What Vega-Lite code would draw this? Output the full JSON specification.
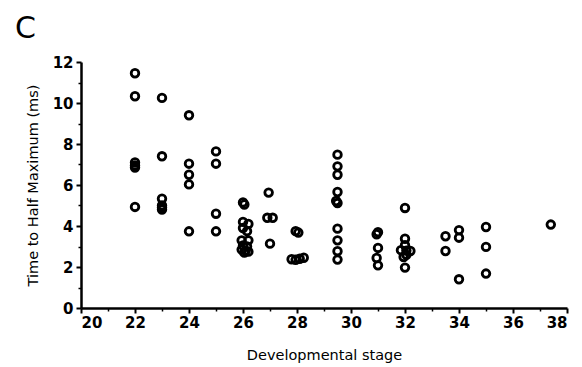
{
  "$schema": "https://vega.github.io/schema/vega-lite/v6.json",
  "width": 486,
  "height": 246,
  "autosize": "none",
  "padding": {"left": 81, "top": 62, "right": 15, "bottom": 59},
  "background": "white",
  "config": {
    "view": {"stroke": null},
    "font": "DejaVu Sans"
  },
  "title": {
    "text": "C",
    "anchor": "start",
    "frame": "group",
    "fontSize": 30,
    "fontWeight": "normal",
    "font": "DejaVu Sans",
    "dx": -66,
    "offset": 11,
    "color": "black"
  },
  "data": {
    "values": [
      {"stage": 22, "t": 11.45}, {"stage": 22, "t": 10.33}, {"stage": 22, "t": 7.1}, {"stage": 22, "t": 6.95}, {"stage": 22, "t": 6.85}, {"stage": 22, "t": 4.93},
      {"stage": 23, "t": 10.25}, {"stage": 23, "t": 7.4}, {"stage": 23, "t": 5.33}, {"stage": 23, "t": 5.0}, {"stage": 23, "t": 4.9}, {"stage": 23, "t": 4.8},
      {"stage": 24, "t": 9.4}, {"stage": 24, "t": 7.04}, {"stage": 24, "t": 6.5}, {"stage": 24, "t": 6.03}, {"stage": 24, "t": 3.74},
      {"stage": 25, "t": 7.64}, {"stage": 25, "t": 7.04}, {"stage": 25, "t": 4.6}, {"stage": 25, "t": 3.74},
      {"stage": 26, "t": 5.15}, {"stage": 26.05, "t": 5.05}, {"stage": 26, "t": 4.2}, {"stage": 26.2, "t": 4.1}, {"stage": 26, "t": 3.9}, {"stage": 26.15, "t": 3.75}, {"stage": 25.95, "t": 3.3}, {"stage": 26.2, "t": 3.3}, {"stage": 26, "t": 3.05}, {"stage": 26.15, "t": 3.0}, {"stage": 25.95, "t": 2.85}, {"stage": 26.1, "t": 2.8}, {"stage": 26.2, "t": 2.75}, {"stage": 26.05, "t": 2.7},
      {"stage": 26.95, "t": 5.63}, {"stage": 26.9, "t": 4.4}, {"stage": 27.1, "t": 4.4}, {"stage": 27, "t": 3.14},
      {"stage": 27.95, "t": 3.75}, {"stage": 28.05, "t": 3.68}, {"stage": 27.8, "t": 2.38}, {"stage": 27.95, "t": 2.35}, {"stage": 28.1, "t": 2.4}, {"stage": 28.25, "t": 2.45},
      {"stage": 29.5, "t": 7.48}, {"stage": 29.5, "t": 6.91}, {"stage": 29.5, "t": 6.5}, {"stage": 29.5, "t": 5.66}, {"stage": 29.45, "t": 5.22}, {"stage": 29.5, "t": 5.12}, {"stage": 29.5, "t": 3.87}, {"stage": 29.5, "t": 3.3}, {"stage": 29.5, "t": 2.77}, {"stage": 29.5, "t": 2.36},
      {"stage": 31, "t": 3.7}, {"stage": 30.95, "t": 3.6}, {"stage": 31, "t": 2.93}, {"stage": 30.95, "t": 2.44}, {"stage": 31, "t": 2.08},
      {"stage": 32, "t": 4.88}, {"stage": 32, "t": 3.38}, {"stage": 32, "t": 3.06}, {"stage": 31.85, "t": 2.82}, {"stage": 32.05, "t": 2.8}, {"stage": 32.2, "t": 2.78}, {"stage": 32.05, "t": 2.6}, {"stage": 31.95, "t": 2.49}, {"stage": 32, "t": 1.97},
      {"stage": 33.5, "t": 3.5}, {"stage": 33.5, "t": 2.78},
      {"stage": 34, "t": 3.8}, {"stage": 34, "t": 3.43}, {"stage": 34, "t": 1.4},
      {"stage": 35, "t": 3.95}, {"stage": 35, "t": 2.98}, {"stage": 35, "t": 1.68},
      {"stage": 37.4, "t": 4.07}
    ]
  },
  "layer": [
    {
      "mark": {"type": "point", "filled": false, "stroke": "black", "strokeWidth": 2.8, "size": 58, "opacity": 1},
      "encoding": {
        "x": {
          "field": "stage", "type": "quantitative",
          "scale": {"domain": [20, 38], "nice": false, "zero": false},
          "axis": {
            "title": "Developmental stage",
            "values": [20, 22, 24, 26, 28, 30, 32, 34, 36, 38],
            "grid": false,
            "domainColor": "black", "domainWidth": 2.5,
            "tickColor": "black", "tickWidth": 2, "tickSize": 5,
            "labelFontSize": 15, "labelFontWeight": 600, "labelColor": "black", "labelPadding": 2,
            "titleFontSize": 14.5, "titleFontWeight": "normal", "titleColor": "black", "titlePadding": 18
          }
        },
        "y": {
          "field": "t", "type": "quantitative",
          "scale": {"domain": [0, 12], "nice": false},
          "axis": {
            "title": "Time to Half Maximum (ms)",
            "values": [0, 2, 4, 6, 8, 10, 12],
            "grid": false,
            "domainColor": "black", "domainWidth": 2.5,
            "tickColor": "black", "tickWidth": 2, "tickSize": 5,
            "labelFontSize": 15, "labelFontWeight": 600, "labelColor": "black", "labelPadding": 3,
            "titleFontSize": 14.5, "titleFontWeight": "normal", "titleColor": "black", "titlePadding": 12
          }
        }
      }
    },
    {
      "mark": {"type": "point", "opacity": 0},
      "encoding": {
        "x": {
          "field": "stage", "type": "quantitative",
          "axis": {
            "orient": "bottom", "title": null, "labels": false, "domain": false, "grid": false,
            "values": [21, 23, 25, 27, 29, 31, 33, 35, 37],
            "tickColor": "black", "tickWidth": 1.5, "tickSize": 3
          }
        },
        "y": {
          "field": "t", "type": "quantitative",
          "axis": {
            "orient": "left", "title": null, "labels": false, "domain": false, "grid": false,
            "values": [1, 3, 5, 7, 9, 11],
            "tickColor": "black", "tickWidth": 1.5, "tickSize": 3
          }
        }
      }
    }
  ],
  "resolve": {"axis": {"x": "independent", "y": "independent"}}
}
